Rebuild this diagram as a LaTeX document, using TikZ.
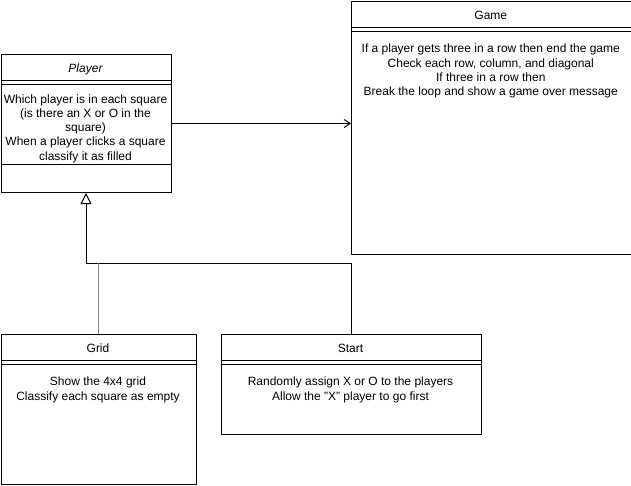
\documentclass[tikz,border=0pt]{standalone}
\usepackage{fontspec}
\setmainfont{Liberation Sans}
\usetikzlibrary{arrows.meta}
\begin{document}
\begin{tikzpicture}[x=1pt,y=-1pt,line width=1pt]
\tikzstyle{every node}+=[inner sep=0pt,font=\fontsize{12}{14.3}\selectfont]
\tikzstyle{classbox}=[draw=black,line width=1pt,anchor=north west]
\tikzstyle{body}=[anchor=north,align=center]
\tikzstyle{gen}=[black,-{Triangle[open,length=11pt,width=11pt]}]
\tikzstyle{assoc}=[black,-{Straight Barb[length=6pt,width=8pt]}]
\useasboundingbox (0,0) rectangle (631,485);
\node [classbox,minimum width=170pt,minimum height=138pt] (player) at (0.5,54) {};
\draw [black] (player.north west) ++(0,26) -- ++(170,0);
\draw [black] (player.north west) ++(0,30) -- ++(170,0);
\draw [black] (player.north west) ++(0,110) -- ++(170,0);
\node [anchor=base] (playerT) at (85.5,72.5) {\itshape Player};
\node [body] (playerB) at (85.5,93.8) {Which player is in each square\\(is there an X or O in the\\square)\\When a player clicks a square\\classify it as filled};
\node [classbox,minimum width=279.5pt,minimum height=253pt] (game) at (351,1) {};
\draw [black] (game.north west) ++(0,26) -- ++(279.5,0);
\draw [black] (game.north west) ++(0,30) -- ++(279.5,0);
\node [anchor=base] (gameT) at (490.75,19) {Game};
\node [body] (gameB) at (490.75,43.8) {If a player gets three in a row then end the game\\Check each row, column, and diagonal\\If three in a row then\\Break the loop and show a game over message};
\node [classbox,minimum width=195pt,minimum height=150pt] (grid) at (0.5,334) {};
\draw [black] (grid.north west) ++(0,26) -- ++(195,0);
\draw [black] (grid.north west) ++(0,30) -- ++(195,0);
\node [anchor=base] (gridT) at (98,352.7) {Grid};
\node [body] (gridB) at (98,376.7) {Show the 4x4 grid\\Classify each square as empty};
\node [classbox,minimum width=260pt,minimum height=100pt] (start) at (220.5,334) {};
\draw [black] (start.north west) ++(0,26) -- ++(260,0);
\draw [black] (start.north west) ++(0,30) -- ++(260,0);
\node [anchor=base] (startT) at (350.5,352.7) {Start};
\node [body] (startB) at (350.5,376.7) {Randomly assign X or O to the players\\Allow the "X" player to go first};
\draw [assoc] (player.east) -- (player.east -| game.west);
\draw [gen] (start.north) -- ++(0,-71) -| (player.south);
\draw [black!50] (grid.north) -- ++(0,-71);
\end{tikzpicture}
\end{document}
